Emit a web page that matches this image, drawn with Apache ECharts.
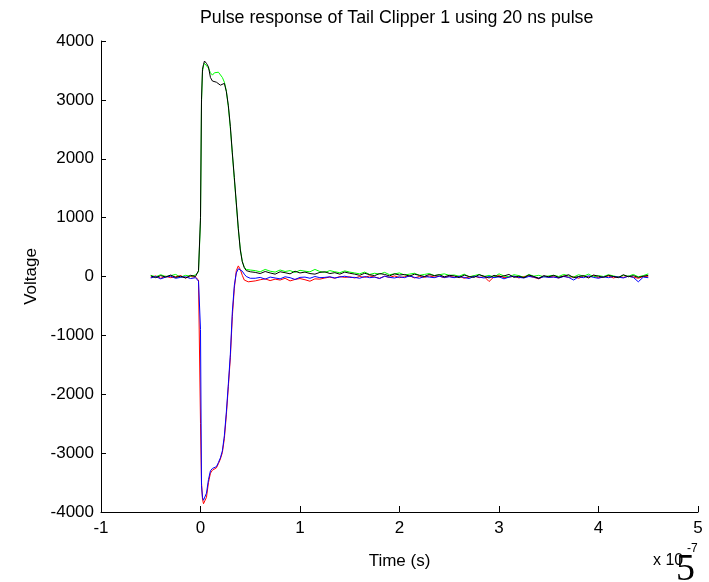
<!DOCTYPE html>
<html>
<head>
<meta charset="utf-8">
<script src="https://cdn.jsdelivr.net/npm/echarts@6/dist/echarts.min.js"></script>
<style>html,body{margin:0;padding:0;background:#fff}#c{width:709px;height:582px}</style>
</head>
<body>
<div id="c"></div>
<script>
// Time axis in units of 1e-7 s
var TIME = [
  -0.5,-0.45,-0.4,-0.35,-0.3,-0.25,-0.2,-0.15,-0.1,-0.05,
  -0.02,0,0.01,0.02,0.03,0.04,0.06,0.08,0.1,0.12,0.14,0.16,0.18,0.2,0.22,0.24,0.26,0.28,0.3,0.32,0.34,0.36,0.38,0.4,0.42,0.44,0.46,0.48,0.5,
  0.55,0.6,0.65,0.7,0.75,0.8,0.85,0.9,0.95,1.0,1.05,1.1,1.15,1.2,1.25,1.3,1.35,1.4,1.45,1.5,
  1.55,1.6,1.65,1.7,1.75,1.8,1.85,1.9,1.95,2.0,2.05,2.1,2.15,2.2,2.25,2.3,2.35,2.4,2.45,2.5,
  2.55,2.6,2.65,2.7,2.75,2.8,2.85,2.9,2.95,3.0,3.05,3.1,3.15,3.2,3.25,3.3,3.35,3.4,3.45,3.5,
  3.55,3.6,3.65,3.7,3.75,3.8,3.85,3.9,3.95,4.0,4.05,4.1,4.15,4.2,4.25,4.3,4.35,4.4,4.45,4.5
];

var GREEN = [
  20,-5,30,0,15,35,-10,20,5,25,
  80,950,2950,3480,3580,3620,3600,3540,3460,3420,3460,3450,3470,3440,3380,3300,3150,2880,2520,2080,1650,1230,800,470,260,160,120,100,110,
  100,80,120,90,75,110,85,100,70,105,90,80,120,85,70,100,80,65,95,75,
  60,45,75,35,55,40,70,30,45,60,25,40,55,20,35,50,15,30,45,20,
  25,5,40,-5,15,35,0,20,-10,45,10,-5,30,15,-15,35,5,20,-5,10,
  20,0,35,10,-10,30,5,40,-5,15,0,30,10,-10,20,5,35,-5,15,45
];

var RED = [
  -15,10,-30,5,-20,-5,15,-25,0,-10,
  -60,-2500,-3500,-3780,-3860,-3880,-3750,-3500,-3340,-3290,-3270,-3250,-3180,-3100,-2990,-2750,-2350,-1870,-1380,-680,-200,100,180,120,20,-60,-80,-90,-70,
  -75,-55,-40,-70,-45,-60,-30,-75,-50,-35,-55,-80,-40,-45,-25,-10,-30,0,-15,-5,
  -25,0,-15,10,-10,-30,5,-15,10,-20,-5,15,-25,0,-15,10,-10,5,-20,5,
  -15,5,-30,-10,10,-20,0,-85,-5,15,-20,-10,5,-25,0,10,-15,-40,5,-10,
  -5,-25,10,-15,0,-30,5,-10,15,-20,-5,10,-25,0,-15,5,-10,-30,0,-5
];

var BLUE = [
  -25,0,-40,-10,5,-30,-15,-5,-35,-20,
  -80,-900,-3550,-3750,-3800,-3830,-3680,-3450,-3300,-3260,-3240,-3230,-3160,-3080,-2960,-2700,-2300,-1820,-1320,-600,-150,60,130,140,90,40,0,-20,-30,
  -30,-15,-45,-10,-25,-40,-5,-20,-50,-15,-10,-30,0,-20,-15,-5,-25,-10,5,-15,
  -15,-30,0,-20,-10,-35,5,-15,-25,-5,-20,10,-15,-30,0,-10,-20,5,-15,-5,
  -20,0,-15,-35,5,-10,-25,0,-20,-5,-40,-10,5,-15,-25,0,-10,-30,-5,-15,
  -10,-25,0,-15,-60,-5,-20,10,-15,-30,-5,-20,0,-10,-25,5,-15,-90,-10,-20
];

var BLACK = [
  10,-20,15,-10,25,-15,5,-25,20,0,
  100,1000,3000,3520,3600,3660,3620,3560,3380,3320,3310,3300,3280,3250,3260,3280,3140,2900,2550,2100,1680,1250,820,450,250,150,100,90,80,
  70,50,85,60,40,80,65,45,90,60,75,50,40,70,80,50,65,40,75,55,
  40,20,55,30,15,50,35,10,45,25,35,5,40,20,0,35,15,30,-5,20,
  10,-20,25,0,-15,30,5,-25,20,-5,10,35,-15,5,-20,25,0,-30,15,-5,
  20,-15,5,30,-20,0,15,-25,25,5,-15,20,0,-20,30,-5,15,-15,5,20
];

var X_TICKS = {min: -1, max: 5, interval: 1};
var Y_TICKS = {min: -4000, max: 4000, interval: 1000};
var TITLE = 'Pulse response of Tail Clipper 1 using 20 ns pulse';
var X_NAME = 'Time (s)';
var Y_NAME = 'Voltage';

function pairs(vals) {
  return TIME.map(function (t, i) { return [t, vals[i]]; });
}

var FONT = "'Liberation Sans', Arial, Helvetica, sans-serif";
var chart = echarts.init(document.getElementById('c'), null, {renderer: 'canvas'});

function mkSeries(name, vals, color) {
  return {
    name: name, type: 'line', data: pairs(vals), showSymbol: false, symbol: 'none',
    lineStyle: {width: 1, color: color}, itemStyle: {color: color}, animation: false
  };
}

function plain(v) { return String(v); }

chart.setOption({
  backgroundColor: '#ffffff',
  animation: false,
  title: {
    text: TITLE, left: 200, top: 9, padding: 0,
    textStyle: {fontFamily: FONT, fontSize: 17.8, fontWeight: 'normal', color: '#000'}
  },
  grid: {left: 101, right: 11, top: 41, bottom: 70, containLabel: false},
  xAxis: {
    type: 'value', min: X_TICKS.min, max: X_TICKS.max, interval: X_TICKS.interval,
    name: X_NAME, nameLocation: 'middle', nameGap: 41,
    nameTextStyle: {fontFamily: FONT, fontSize: 17, color: '#000'},
    axisLine: {show: true, onZero: false, lineStyle: {color: '#000', width: 1}},
    axisTick: {show: true, inside: true, length: 6, lineStyle: {color: '#000'}},
    axisLabel: {fontFamily: FONT, fontSize: 17, color: '#000', margin: 8, formatter: plain},
    splitLine: {show: false}
  },
  yAxis: {
    type: 'value', min: Y_TICKS.min, max: Y_TICKS.max, interval: Y_TICKS.interval,
    name: Y_NAME, nameLocation: 'middle', nameGap: 60, nameRotate: 90,
    nameTextStyle: {fontFamily: FONT, fontSize: 17, color: '#000'},
    axisLine: {show: true, onZero: false, lineStyle: {color: '#000', width: 1}},
    axisTick: {show: true, inside: true, length: 5, lineStyle: {color: '#000'}},
    axisLabel: {fontFamily: FONT, fontSize: 17, color: '#000', margin: 7, formatter: plain},
    splitLine: {show: false}
  },
  series: [
    mkSeries('red', RED, '#ff0000'),
    mkSeries('green', GREEN, '#00ff00'),
    mkSeries('blue', BLUE, '#0000ff'),
    mkSeries('black', BLACK, '#000000')
  ],
  graphic: [
    {type: 'text', left: 653, top: 553, style: {text: 'x 10', font: "16px " + FONT, fill: '#000'}},
    {type: 'text', left: 687, top: 543, style: {text: '-7', font: "12px " + FONT, fill: '#000'}},
    {type: 'text', left: 676, top: 551, style: {text: '5', font: "38px 'Liberation Serif', 'Times New Roman', serif", fill: '#000'}}
  ]
});
</script>
</body>
</html>
